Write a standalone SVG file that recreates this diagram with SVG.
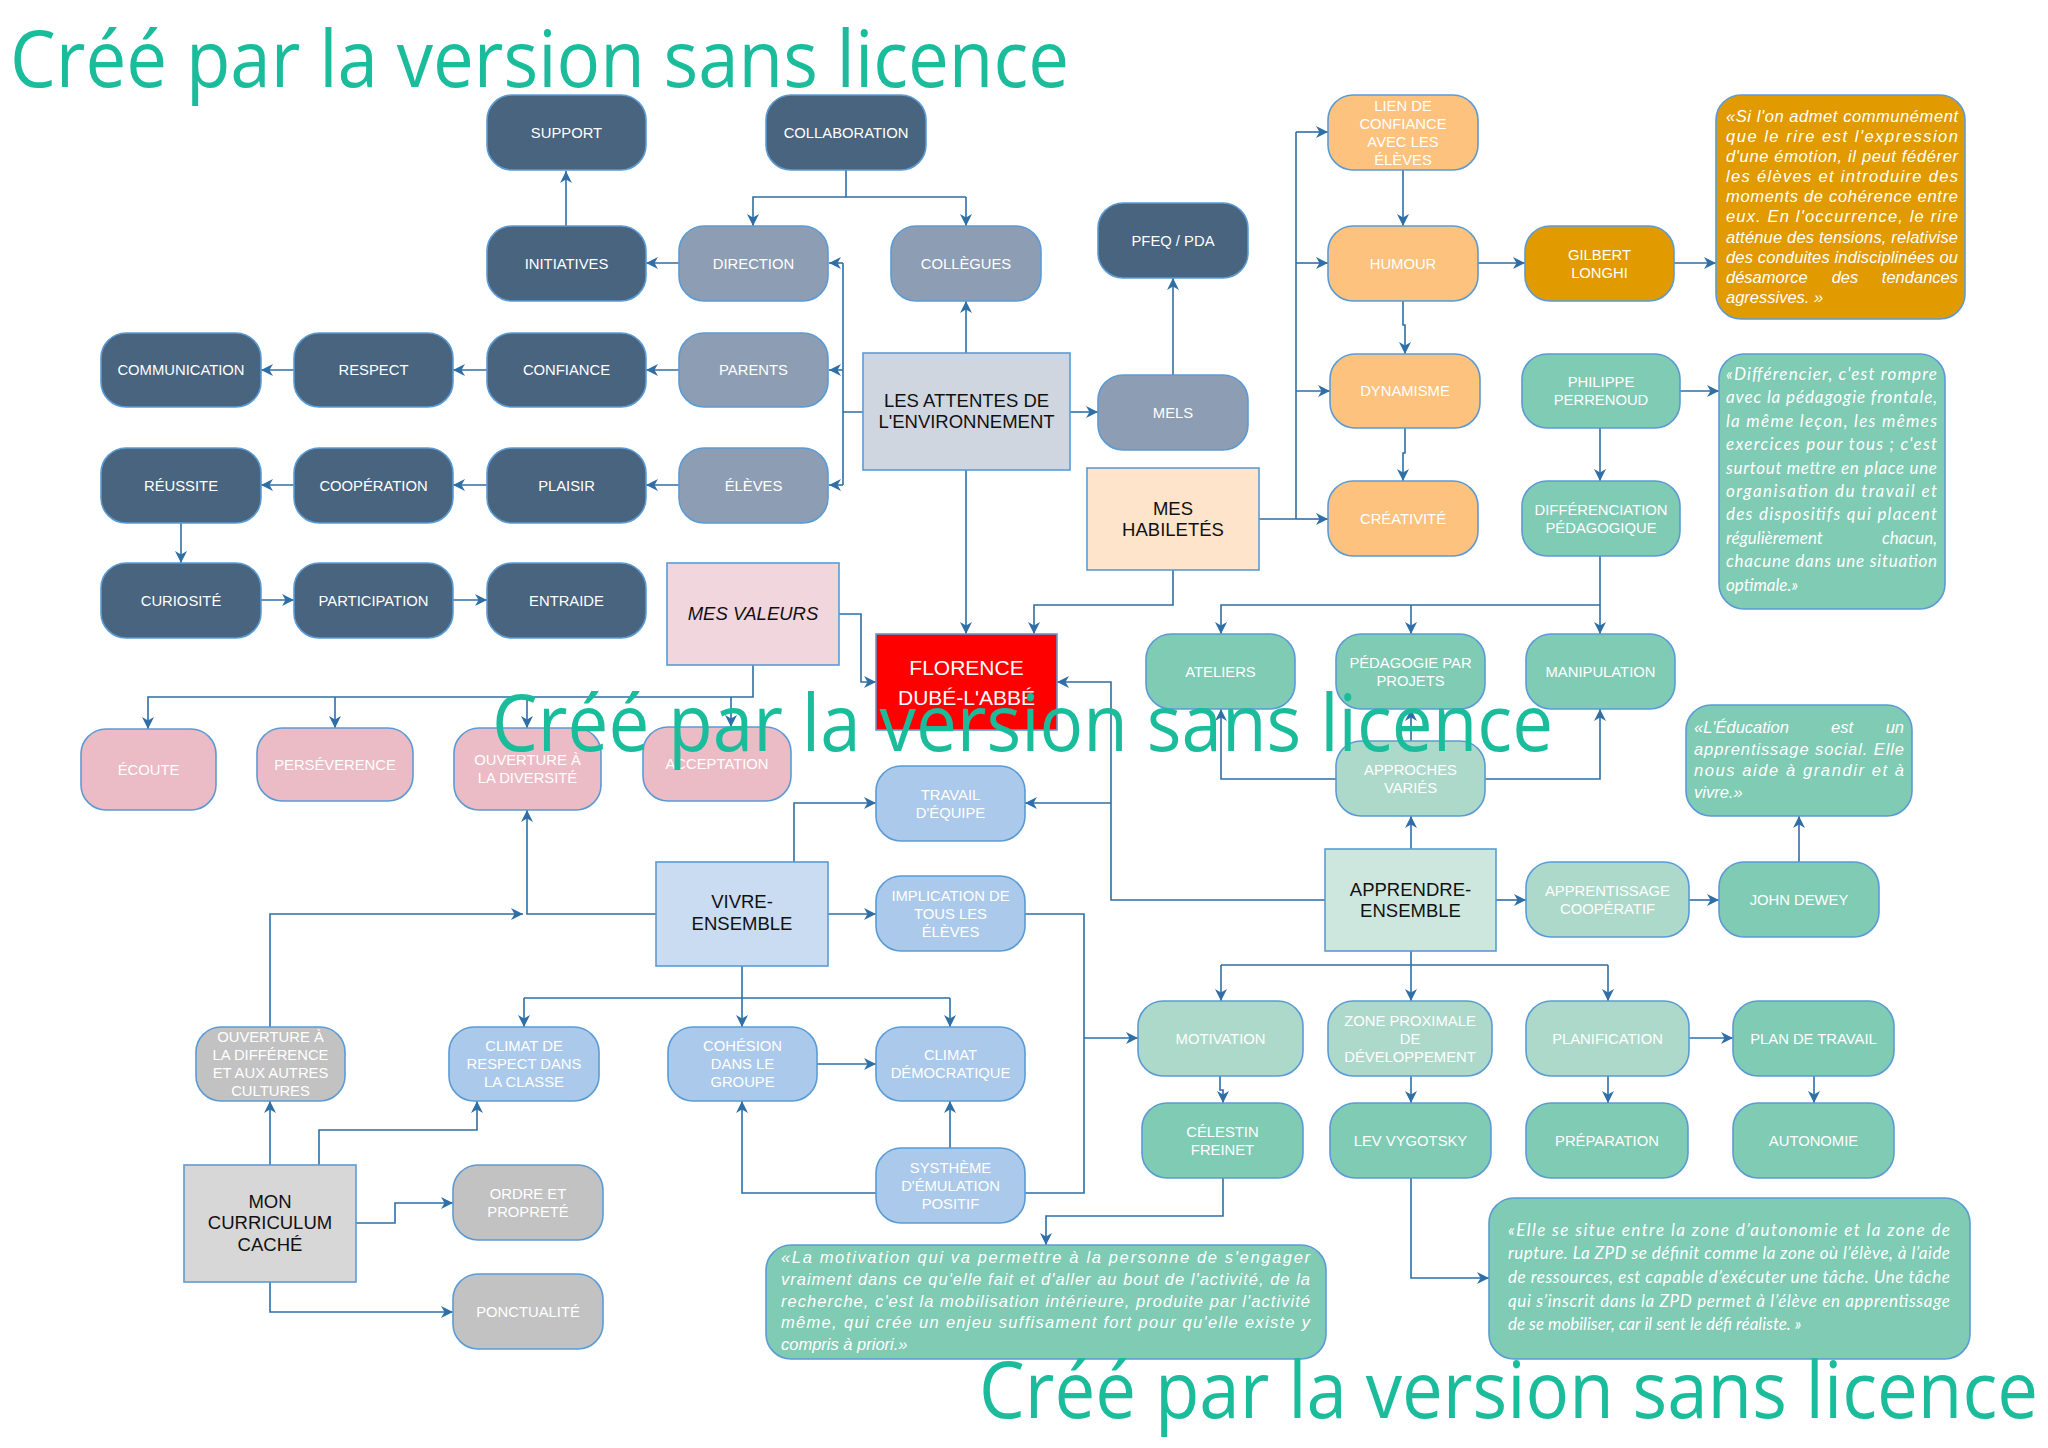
<svg xmlns="http://www.w3.org/2000/svg" width="2048" height="1448" viewBox="0 0 2048 1448">
<defs>
<style>
.n{stroke:#5b9bd5;stroke-width:1.6}
.dark{fill:#48647f}.slate{fill:#8d9db3}.org{fill:#fdc27e}.gold{fill:#e19a00}
.teal{fill:#7fcbb4}.lteal{fill:#acd9ca}.pink{fill:#ebbbc6}.blue{fill:#abc9ea}.gray{fill:#c2c2c2}
.l{font-family:"Liberation Sans",Arial,sans-serif;font-size:14.8px;fill:#fff;text-anchor:middle}
.m{font-family:"Liberation Sans",Arial,sans-serif;font-size:18.5px;fill:#111;text-anchor:middle}
.q{font-family:"Liberation Sans",Arial,sans-serif;font-size:16.5px;font-style:italic;fill:#fff}
.qc{font-family:Lato,"Noto Sans",sans-serif;font-style:italic;fill:#fff}
.c path{fill:none;stroke:#2f6fa6;stroke-width:1.6}
.wm{font-family:"Open Sans","Noto Sans",sans-serif;font-size:78px;fill:#1bbc9b}
</style>
<marker id="a" viewBox="0 0 12 12" refX="12" refY="6" markerWidth="12" markerHeight="12" markerUnits="userSpaceOnUse" orient="auto"><path d="M0,0 L12,6 L0,12 L3.5,6 z" fill="#2f6fa6"/></marker>
</defs>
<rect width="2048" height="1448" fill="#fff"/>

<g id="connectors" class="c">
<path d="M566,226 V171" marker-end="url(#a)"/>
<path d="M846,170 V197 H966"/>
<path d="M846,197 H753 V226" marker-end="url(#a)"/>
<path d="M966,197 V226" marker-end="url(#a)"/>
<path d="M679,263 H646" marker-end="url(#a)"/>
<path d="M863,412 H843 M843,263 V485"/>
<path d="M843,263 H829" marker-end="url(#a)"/>
<path d="M843,370 H829" marker-end="url(#a)"/>
<path d="M843,485 H829" marker-end="url(#a)"/>
<path d="M679,370 H646" marker-end="url(#a)"/>
<path d="M487,370 H453" marker-end="url(#a)"/>
<path d="M294,370 H261" marker-end="url(#a)"/>
<path d="M679,485 H646" marker-end="url(#a)"/>
<path d="M487,485 H453" marker-end="url(#a)"/>
<path d="M294,485 H261" marker-end="url(#a)"/>
<path d="M181,523 V563" marker-end="url(#a)"/>
<path d="M261,600 H294" marker-end="url(#a)"/>
<path d="M453,600 H487" marker-end="url(#a)"/>
<path d="M966,353 V301" marker-end="url(#a)"/>
<path d="M1070,412 H1098" marker-end="url(#a)"/>
<path d="M1173,375 V278" marker-end="url(#a)"/>
<path d="M966,470 V634" marker-end="url(#a)"/>
<path d="M1259,519 H1296 M1296,132 V519"/>
<path d="M1296,132 H1328" marker-end="url(#a)"/>
<path d="M1296,263 H1328" marker-end="url(#a)"/>
<path d="M1296,391 H1330" marker-end="url(#a)"/>
<path d="M1296,519 H1328" marker-end="url(#a)"/>
<path d="M1403,170 V226" marker-end="url(#a)"/>
<path d="M1403,301 V325 H1405 V354" marker-end="url(#a)"/>
<path d="M1405,428 V453 H1403 V481" marker-end="url(#a)"/>
<path d="M1478,263 H1525" marker-end="url(#a)"/>
<path d="M1674,263 H1716" marker-end="url(#a)"/>
<path d="M1680,391 H1719" marker-end="url(#a)"/>
<path d="M1600,428 V481" marker-end="url(#a)"/>
<path d="M1600,556 V634" marker-end="url(#a)"/>
<path d="M1600,605 H1221 V634" marker-end="url(#a)"/>
<path d="M1411,605 V634" marker-end="url(#a)"/>
<path d="M1173,570 V605 H1034 V634" marker-end="url(#a)"/>
<path d="M839,614 H861 V682 H876" marker-end="url(#a)"/>
<path d="M753,665 V697 H148 V729" marker-end="url(#a)"/>
<path d="M335,697 V728" marker-end="url(#a)"/>
<path d="M527,697 V728" marker-end="url(#a)"/>
<path d="M731,697 V727" marker-end="url(#a)"/>
<path d="M1411,849 V816" marker-end="url(#a)"/>
<path d="M1336,779 H1221 V709" marker-end="url(#a)"/>
<path d="M1411,741 V709" marker-end="url(#a)"/>
<path d="M1485,779 H1600 V709" marker-end="url(#a)"/>
<path d="M1325,900 H1111 V682 H1057" marker-end="url(#a)"/>
<path d="M1111,803 H1025" marker-end="url(#a)"/>
<path d="M1496,900 H1526" marker-end="url(#a)"/>
<path d="M1689,900 H1719" marker-end="url(#a)"/>
<path d="M1799,862 V816" marker-end="url(#a)"/>
<path d="M794,862 V803 H876" marker-end="url(#a)"/>
<path d="M828,914 H876" marker-end="url(#a)"/>
<path d="M1025,914 H1084 V1193 H1025"/>
<path d="M1084,1038 H1138" marker-end="url(#a)"/>
<path d="M656,914 H527 V810" marker-end="url(#a)"/>
<path d="M270,1027 V914 H523" marker-end="url(#a)"/>
<path d="M742,966 V1027" marker-end="url(#a)"/>
<path d="M524,998 H950"/>
<path d="M524,998 V1027" marker-end="url(#a)"/>
<path d="M950,998 V1027" marker-end="url(#a)"/>
<path d="M817,1064 H876" marker-end="url(#a)"/>
<path d="M950,1148 V1101" marker-end="url(#a)"/>
<path d="M876,1193 H742 V1101" marker-end="url(#a)"/>
<path d="M270,1165 V1101" marker-end="url(#a)"/>
<path d="M319,1165 V1130 H477 V1101" marker-end="url(#a)"/>
<path d="M356,1223 H395 V1203 H453" marker-end="url(#a)"/>
<path d="M270,1282 V1312 H453" marker-end="url(#a)"/>
<path d="M1411,951 V965 M1221,965 H1608"/>
<path d="M1221,965 V1001" marker-end="url(#a)"/>
<path d="M1411,965 V1001" marker-end="url(#a)"/>
<path d="M1608,965 V1001" marker-end="url(#a)"/>
<path d="M1220,1076 V1090 H1223 V1103" marker-end="url(#a)"/>
<path d="M1411,1076 V1103" marker-end="url(#a)"/>
<path d="M1689,1038 H1733" marker-end="url(#a)"/>
<path d="M1608,1076 V1103" marker-end="url(#a)"/>
<path d="M1814,1076 V1103" marker-end="url(#a)"/>
<path d="M1223,1178 V1216 H1046 V1245" marker-end="url(#a)"/>
<path d="M1411,1178 V1278 H1489" marker-end="url(#a)"/>
</g>

<!-- dark nodes -->
<g id="support"><rect class="n dark" x="487" y="95" width="159" height="75" rx="25"/><text class="l" x="566.5" y="137.5">SUPPORT</text></g>
<g id="collaboration"><rect class="n dark" x="766" y="95" width="160" height="75" rx="25"/><text class="l" x="846" y="137.5">COLLABORATION</text></g>
<g id="initiatives"><rect class="n dark" x="487" y="226" width="159" height="75" rx="25"/><text class="l" x="566.5" y="268.5">INITIATIVES</text></g>
<g id="communication"><rect class="n dark" x="101" y="333" width="160" height="74" rx="25"/><text class="l" x="181" y="375">COMMUNICATION</text></g>
<g id="respect"><rect class="n dark" x="294" y="333" width="159" height="74" rx="25"/><text class="l" x="373.5" y="375">RESPECT</text></g>
<g id="confiance"><rect class="n dark" x="487" y="333" width="159" height="74" rx="25"/><text class="l" x="566.5" y="375">CONFIANCE</text></g>
<g id="reussite"><rect class="n dark" x="101" y="448" width="160" height="75" rx="25"/><text class="l" x="181" y="490.5">RÉUSSITE</text></g>
<g id="cooperation"><rect class="n dark" x="294" y="448" width="159" height="75" rx="25"/><text class="l" x="373.5" y="490.5">COOPÉRATION</text></g>
<g id="plaisir"><rect class="n dark" x="487" y="448" width="159" height="75" rx="25"/><text class="l" x="566.5" y="490.5">PLAISIR</text></g>
<g id="curiosite"><rect class="n dark" x="101" y="563" width="160" height="75" rx="25"/><text class="l" x="181" y="605.5">CURIOSITÉ</text></g>
<g id="participation"><rect class="n dark" x="294" y="563" width="159" height="75" rx="25"/><text class="l" x="373.5" y="605.5">PARTICIPATION</text></g>
<g id="entraide"><rect class="n dark" x="487" y="563" width="159" height="75" rx="25"/><text class="l" x="566.5" y="605.5">ENTRAIDE</text></g>
<g id="pfeq"><rect class="n dark" x="1098" y="203" width="150" height="75" rx="25"/><text class="l" x="1173" y="245.5">PFEQ / PDA</text></g>

<!-- slate nodes -->
<g id="direction"><rect class="n slate" x="679" y="226" width="149" height="75" rx="25"/><text class="l" x="753.5" y="268.5">DIRECTION</text></g>
<g id="collegues"><rect class="n slate" x="891" y="226" width="150" height="75" rx="25"/><text class="l" x="966" y="268.5">COLLÈGUES</text></g>
<g id="parents"><rect class="n slate" x="679" y="333" width="149" height="74" rx="25"/><text class="l" x="753.5" y="375">PARENTS</text></g>
<g id="eleves"><rect class="n slate" x="679" y="448" width="149" height="75" rx="25"/><text class="l" x="753.5" y="490.5">ÉLÈVES</text></g>
<g id="mels"><rect class="n slate" x="1098" y="375" width="150" height="75" rx="25"/><text class="l" x="1173" y="417.5">MELS</text></g>

<!-- main boxes -->
<g id="attentes"><rect class="n" fill="#d0d6df" x="863" y="353" width="207" height="117"/><text class="m" x="966.5"><tspan x="966.5" y="407">LES ATTENTES DE</tspan><tspan x="966.5" y="428">L'ENVIRONNEMENT</tspan></text></g>
<g id="habiletes"><rect class="n" fill="#fde4ca" x="1087" y="468" width="172" height="102"/><text class="m" x="1173"><tspan x="1173" y="515">MES</tspan><tspan x="1173" y="536">HABILETÉS</tspan></text></g>
<g id="valeurs"><rect class="n" fill="#f2d6de" x="667" y="563" width="172" height="102"/><text class="m" x="753" y="620" font-style="italic">MES VALEURS</text></g>
<g id="florence"><rect class="n" fill="#ff0000" x="876" y="634" width="181" height="96"/><text x="966.5" font-family="'Liberation Sans Narrow','Liberation Sans',sans-serif" font-size="21" fill="#fff" text-anchor="middle"><tspan x="966.5" y="675">FLORENCE</tspan><tspan x="966.5" y="705">DUBÉ-L'ABBÉ</tspan></text></g>
<g id="vivre"><rect class="n" fill="#c9dcf2" x="656" y="862" width="172" height="104"/><text class="m" x="742"><tspan x="742" y="908">VIVRE-</tspan><tspan x="742" y="930">ENSEMBLE</tspan></text></g>
<g id="apprendre"><rect class="n" fill="#cde7df" x="1325" y="849" width="171" height="102"/><text class="m" x="1410.5"><tspan x="1410.5" y="896">APPRENDRE-</tspan><tspan x="1410.5" y="917">ENSEMBLE</tspan></text></g>
<g id="curriculum"><rect class="n" fill="#d7d7d7" x="184" y="1165" width="172" height="117"/><text class="m" x="270"><tspan x="270" y="1208">MON</tspan><tspan x="270" y="1229">CURRICULUM</tspan><tspan x="270" y="1251">CACHÉ</tspan></text></g>

<!-- orange -->
<g id="lien"><rect class="n org" x="1328" y="95" width="150" height="75" rx="25"/><text class="l"><tspan x="1403" y="110.5">LIEN DE</tspan><tspan x="1403" y="128.5">CONFIANCE</tspan><tspan x="1403" y="146.5">AVEC LES</tspan><tspan x="1403" y="164.5">ÉLÈVES</tspan></text></g>
<g id="humour"><rect class="n org" x="1328" y="226" width="150" height="75" rx="25"/><text class="l" x="1403" y="268.5">HUMOUR</text></g>
<g id="dynamisme"><rect class="n org" x="1330" y="354" width="150" height="74" rx="25"/><text class="l" x="1405" y="396">DYNAMISME</text></g>
<g id="creativite"><rect class="n org" x="1328" y="481" width="150" height="75" rx="25"/><text class="l" x="1403" y="523.5">CRÉATIVITÉ</text></g>
<g id="gilbert"><rect class="n gold" x="1525" y="226" width="149" height="75" rx="25"/><text class="l"><tspan x="1599.5" y="259.5">GILBERT</tspan><tspan x="1599.5" y="277.5">LONGHI</tspan></text></g>
<g id="quote-longhi"><rect class="n gold" x="1716" y="95" width="249" height="224" rx="25"/>
<text class="q"><tspan x="1726" y="122" textLength="232" lengthAdjust="spacing">«Si l'on admet communément</tspan></text>
<text class="q"><tspan x="1726" y="142" textLength="232" lengthAdjust="spacing">que le rire est l'expression</tspan></text>
<text class="q"><tspan x="1726" y="162" textLength="232" lengthAdjust="spacing">d'une émotion, il peut fédérer</tspan></text>
<text class="q"><tspan x="1726" y="182" textLength="232" lengthAdjust="spacing">les élèves et  introduire des</tspan></text>
<text class="q"><tspan x="1726" y="202" textLength="232" lengthAdjust="spacing">moments de cohérence entre</tspan></text>
<text class="q"><tspan x="1726" y="222" textLength="232" lengthAdjust="spacing">eux.  En l'occurrence, le rire</tspan></text>
<text class="q"><tspan x="1726" y="243" textLength="232" lengthAdjust="spacing">atténue des tensions, relativise</tspan></text>
<text class="q"><tspan x="1726" y="263" textLength="232" lengthAdjust="spacing">des conduites indisciplinées ou</tspan></text>
<text class="q" x="1726" y="283">désamorce</text><text class="q" x="1845" y="283" text-anchor="middle">des</text><text class="q" x="1958" y="283" text-anchor="end">tendances</text>
<text class="q" x="1726" y="303">agressives. »</text>
</g>

<!-- teal -->
<g id="perrenoud"><rect class="n teal" x="1522" y="354" width="158" height="74" rx="25"/><text class="l"><tspan x="1601" y="387">PHILIPPE</tspan><tspan x="1601" y="405">PERRENOUD</tspan></text></g>
<g id="differenciation"><rect class="n teal" x="1522" y="481" width="158" height="75" rx="25"/><text class="l"><tspan x="1601" y="514.5">DIFFÉRENCIATION</tspan><tspan x="1601" y="532.5">PÉDAGOGIQUE</tspan></text></g>
<g id="quote-perrenoud"><rect class="n teal" x="1719" y="354" width="226" height="255" rx="25"/>
<text class="qc" font-size="17"><tspan x="1726" y="380" textLength="211" lengthAdjust="spacing">«Différencier, c'est rompre</tspan></text>
<text class="qc" font-size="17"><tspan x="1726" y="403.4" textLength="211" lengthAdjust="spacing">avec la pédagogie frontale,</tspan></text>
<text class="qc" font-size="17"><tspan x="1726" y="426.8" textLength="211" lengthAdjust="spacing">la même leçon, les mêmes</tspan></text>
<text class="qc" font-size="17"><tspan x="1726" y="450.2" textLength="211" lengthAdjust="spacing">exercices pour tous ; c'est</tspan></text>
<text class="qc" font-size="17"><tspan x="1726" y="473.6" textLength="211" lengthAdjust="spacing">surtout mettre en place une</tspan></text>
<text class="qc" font-size="17"><tspan x="1726" y="497" textLength="211" lengthAdjust="spacing">organisation du travail et</tspan></text>
<text class="qc" font-size="17"><tspan x="1726" y="520.4" textLength="211" lengthAdjust="spacing">des dispositifs qui placent</tspan></text>
<text class="qc" font-size="17" x="1726" y="543.8">régulièrement</text><text class="qc" font-size="17" x="1937" y="543.8" text-anchor="end">chacun,</text>
<text class="qc" font-size="17"><tspan x="1726" y="567.2" textLength="211" lengthAdjust="spacing">chacune dans une situation</tspan></text>
<text class="qc" font-size="17" x="1726" y="590.6">optimale.»</text>
</g>
<g id="ateliers"><rect class="n teal" x="1146" y="634" width="149" height="75" rx="25"/><text class="l" x="1220.5" y="676.5">ATELIERS</text></g>
<g id="pedagogie"><rect class="n teal" x="1336" y="634" width="149" height="75" rx="25"/><text class="l"><tspan x="1410.5" y="667.5">PÉDAGOGIE PAR</tspan><tspan x="1410.5" y="685.5">PROJETS</tspan></text></g>
<g id="manipulation"><rect class="n teal" x="1526" y="634" width="149" height="75" rx="25"/><text class="l" x="1600.5" y="676.5">MANIPULATION</text></g>
<g id="approches"><rect class="n lteal" x="1336" y="741" width="149" height="75" rx="25"/><text class="l"><tspan x="1410.5" y="774.5">APPROCHES</tspan><tspan x="1410.5" y="792.5">VARIÉS</tspan></text></g>
<g id="quote-dewey"><rect class="n teal" x="1686" y="705" width="226" height="111" rx="25"/>
<text class="q" font-size="18" x="1694" y="733">«L'Éducation</text><text class="q" font-size="18" x="1842" y="733" text-anchor="middle">est</text><text class="q" font-size="18" x="1904" y="733" text-anchor="end">un</text>
<text class="q" font-size="18"><tspan x="1694" y="755" textLength="210" lengthAdjust="spacing">apprentissage social. Elle</tspan></text>
<text class="q" font-size="18"><tspan x="1694" y="776" textLength="210" lengthAdjust="spacing">nous aide à grandir et à</tspan></text>
<text class="q" font-size="18" x="1694" y="798">vivre.»</text>
</g>
<g id="apprentissage"><rect class="n lteal" x="1526" y="862" width="163" height="75" rx="25"/><text class="l"><tspan x="1607.5" y="895.5">APPRENTISSAGE</tspan><tspan x="1607.5" y="913.5">COOPÉRATIF</tspan></text></g>
<g id="dewey"><rect class="n teal" x="1719" y="862" width="160" height="75" rx="25"/><text class="l" x="1799" y="904.5">JOHN DEWEY</text></g>
<g id="motivation"><rect class="n lteal" x="1138" y="1001" width="165" height="75" rx="25"/><text class="l" x="1220.5" y="1043.5">MOTIVATION</text></g>
<g id="zpd"><rect class="n lteal" x="1328" y="1001" width="164" height="75" rx="25"/><text class="l"><tspan x="1410" y="1025.5">ZONE PROXIMALE</tspan><tspan x="1410" y="1043.5">DE</tspan><tspan x="1410" y="1061.5">DÉVELOPPEMENT</tspan></text></g>
<g id="planification"><rect class="n lteal" x="1526" y="1001" width="163" height="75" rx="25"/><text class="l" x="1607.5" y="1043.5">PLANIFICATION</text></g>
<g id="plan"><rect class="n teal" x="1733" y="1001" width="161" height="75" rx="25"/><text class="l" x="1813.5" y="1043.5">PLAN DE TRAVAIL</text></g>
<g id="freinet"><rect class="n teal" x="1142" y="1103" width="161" height="75" rx="25"/><text class="l"><tspan x="1222.5" y="1136.5">CÉLESTIN</tspan><tspan x="1222.5" y="1154.5">FREINET</tspan></text></g>
<g id="vygotsky"><rect class="n teal" x="1330" y="1103" width="161" height="75" rx="25"/><text class="l" x="1410.5" y="1145.5">LEV VYGOTSKY</text></g>
<g id="preparation"><rect class="n teal" x="1526" y="1103" width="162" height="75" rx="25"/><text class="l" x="1607" y="1145.5">PRÉPARATION</text></g>
<g id="autonomie"><rect class="n teal" x="1733" y="1103" width="161" height="75" rx="25"/><text class="l" x="1813.5" y="1145.5">AUTONOMIE</text></g>
<g id="quote-motivation"><rect class="n teal" x="766" y="1245" width="560" height="114" rx="25"/>
<text class="q" font-size="17.5"><tspan x="781" y="1263" textLength="529" lengthAdjust="spacing">«La motivation qui va permettre à la personne de s'engager</tspan></text>
<text class="q" font-size="17.5"><tspan x="781" y="1285" textLength="529" lengthAdjust="spacing">vraiment dans ce qu'elle fait et d'aller au bout de l'activité, de la</tspan></text>
<text class="q" font-size="17.5"><tspan x="781" y="1307" textLength="529" lengthAdjust="spacing">recherche, c'est la mobilisation intérieure, produite par l'activité</tspan></text>
<text class="q" font-size="17.5"><tspan x="781" y="1328" textLength="529" lengthAdjust="spacing">même, qui crée un enjeu suffisament fort pour qu'elle existe y</tspan></text>
<text class="q" font-size="17.5" x="781" y="1350">compris à priori.»</text>
</g>
<g id="quote-zpd"><rect class="n teal" x="1489" y="1198" width="481" height="161" rx="25"/>
<text class="qc" font-size="17"><tspan x="1508" y="1236" textLength="442" lengthAdjust="spacing">«Elle se situe entre la zone d’autonomie et la zone de</tspan></text>
<text class="qc" font-size="17"><tspan x="1508" y="1259" textLength="442" lengthAdjust="spacing">rupture. La ZPD se définit comme la zone où l’élève, à l’aide</tspan></text>
<text class="qc" font-size="17"><tspan x="1508" y="1283" textLength="442" lengthAdjust="spacing">de ressources, est capable d’exécuter une tâche. Une tâche</tspan></text>
<text class="qc" font-size="17"><tspan x="1508" y="1307" textLength="442" lengthAdjust="spacing">qui s’inscrit dans la ZPD permet à l’élève en apprentissage</tspan></text>
<text class="qc" font-size="17" x="1508" y="1330">de se mobiliser, car il sent le défi réaliste. »</text>
</g>

<!-- pink -->
<g id="ecoute"><rect class="n pink" x="81" y="729" width="135" height="81" rx="25"/><text class="l" x="148.5" y="774.5">ÉCOUTE</text></g>
<g id="perseverence"><rect class="n pink" x="257" y="728" width="156" height="73" rx="25"/><text class="l" x="335" y="769.5">PERSÉVERENCE</text></g>
<g id="ouverture-diversite"><rect class="n pink" x="454" y="728" width="147" height="82" rx="25"/><text class="l"><tspan x="527.5" y="765">OUVERTURE À</tspan><tspan x="527.5" y="783">LA DIVERSITÉ</tspan></text></g>
<g id="acceptation"><rect class="n pink" x="643" y="727" width="148" height="74" rx="25"/><text class="l" x="717" y="769">ACCEPTATION</text></g>

<!-- blue -->
<g id="travail"><rect class="n blue" x="876" y="766" width="149" height="75" rx="25"/><text class="l"><tspan x="950.5" y="799.5">TRAVAIL</tspan><tspan x="950.5" y="817.5">D'ÉQUIPE</tspan></text></g>
<g id="implication"><rect class="n blue" x="876" y="876" width="149" height="75" rx="25"/><text class="l"><tspan x="950.5" y="900.5">IMPLICATION DE</tspan><tspan x="950.5" y="918.5">TOUS LES</tspan><tspan x="950.5" y="936.5">ÉLÈVES</tspan></text></g>
<g id="climat-respect"><rect class="n blue" x="449" y="1027" width="150" height="74" rx="25"/><text class="l"><tspan x="524" y="1051">CLIMAT DE</tspan><tspan x="524" y="1069">RESPECT DANS</tspan><tspan x="524" y="1087">LA CLASSE</tspan></text></g>
<g id="cohesion"><rect class="n blue" x="668" y="1027" width="149" height="74" rx="25"/><text class="l"><tspan x="742.5" y="1051">COHÉSION</tspan><tspan x="742.5" y="1069">DANS LE</tspan><tspan x="742.5" y="1087">GROUPE</tspan></text></g>
<g id="climat-dem"><rect class="n blue" x="876" y="1027" width="149" height="74" rx="25"/><text class="l"><tspan x="950.5" y="1060">CLIMAT</tspan><tspan x="950.5" y="1078">DÉMOCRATIQUE</tspan></text></g>
<g id="systheme"><rect class="n blue" x="876" y="1148" width="149" height="75" rx="25"/><text class="l"><tspan x="950.5" y="1172.5">SYSTHÈME</tspan><tspan x="950.5" y="1190.5">D'ÉMULATION</tspan><tspan x="950.5" y="1208.5">POSITIF</tspan></text></g>

<!-- gray -->
<g id="ouverture-difference"><rect class="n gray" x="196" y="1027" width="149" height="74" rx="25"/><text class="l"><tspan x="270.5" y="1042">OUVERTURE À</tspan><tspan x="270.5" y="1060">LA DIFFÉRENCE</tspan><tspan x="270.5" y="1078">ET AUX AUTRES</tspan><tspan x="270.5" y="1096">CULTURES</tspan></text></g>
<g id="ordre"><rect class="n gray" x="453" y="1165" width="150" height="75" rx="25"/><text class="l"><tspan x="528" y="1198.5">ORDRE ET</tspan><tspan x="528" y="1216.5">PROPRETÉ</tspan></text></g>
<g id="ponctualite"><rect class="n gray" x="453" y="1274" width="150" height="75" rx="25"/><text class="l" x="528" y="1316.5">PONCTUALITÉ</text></g>

<!-- watermarks -->
<g id="watermarks">
<text class="wm" x="10" y="87" textLength="1059" lengthAdjust="spacingAndGlyphs">Créé par la version sans licence</text>
<text class="wm" x="492" y="751" textLength="1061" lengthAdjust="spacingAndGlyphs">Créé par la version sans licence</text>
<text class="wm" x="979" y="1418" textLength="1059" lengthAdjust="spacingAndGlyphs">Créé par la version sans licence</text>
</g>
</svg>
